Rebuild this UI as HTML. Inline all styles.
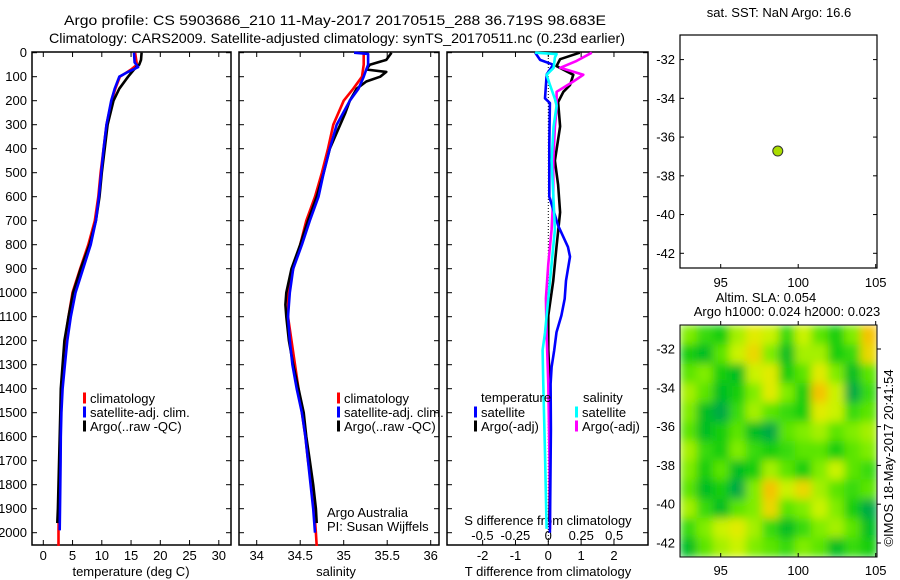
<!DOCTYPE html>
<html><head><meta charset="utf-8">
<style>
html,body{margin:0;padding:0;background:#fff;}
svg{display:block;font-family:"Liberation Sans",sans-serif;}
</style></head>
<body>
<svg id="fig" width="900" height="580" viewBox="0 0 900 580" xmlns="http://www.w3.org/2000/svg">
<defs>
<filter id="blur" x="0" y="0" width="100%" height="100%"><feGaussianBlur stdDeviation="4.5" edgeMode="duplicate"/></filter>
<clipPath id="mapclip"><rect x="680" y="325" width="197" height="232"/></clipPath>
</defs>
<text x="64" y="25" font-size="14" textLength="542" lengthAdjust="spacingAndGlyphs">Argo profile: CS 5903686_210 11-May-2017 20170515_288 36.719S 98.683E</text>
<text x="49" y="43" font-size="14" textLength="576" lengthAdjust="spacingAndGlyphs">Climatology: CARS2009. Satellite-adjusted climatology: synTS_20170511.nc (0.23d earlier)</text>
<g id="layer"></g>
</svg>
<script>
// ---- data ----
const depthTicks=[0,100,200,300,400,500,600,700,800,900,1000,1100,1200,1300,1400,1500,1600,1700,1800,1900,2000];
const tempTicks=[0,5,10,15,20,25,30];
const salTicks=[34,34.5,35,35.5,36];
const tdTicks=[-2,-1,0,1,2];
const sdTicks=[-0.5,-0.25,0,0.25,0.5];
const sdTickLabels=["-0.5","-0.25","0","0.25","0.5"];

const tClimDepth=[0,50,70,100,150,200,300,400,500,600,700,800,900,1000,1100,1200,1300,1400,1500,1600,1700,1800,1900,2000,2055];
const tClim=[15.7,16.0,15.0,13.1,12.3,11.7,10.8,10.3,9.8,9.4,8.8,7.7,6.3,5.0,4.3,3.7,3.4,3.1,3.0,2.9,2.85,2.75,2.65,2.6,2.6];
const tSatDepth=[0,40,60,80,100,150,200,300,400,500,600,700,800,900,1000,1100,1200,1300,1400,1500,1600,1700,1800,1900,1990];
const tSat=[15.5,15.6,16.2,14.5,13.0,12.2,11.6,10.8,10.3,9.9,9.5,9.0,8.1,6.8,5.5,4.7,4.1,3.7,3.3,3.1,3.0,2.95,2.9,2.85,2.8];
const tArgoDepth=[0,30,50,70,100,150,200,300,400,500,600,700,800,900,1000,1100,1200,1300,1400,1500,1600,1700,1800,1900,1960];
const tArgo=[16.8,16.7,16.4,15.5,14.5,13.0,12.0,11.0,10.5,10.0,9.6,9.0,7.9,6.4,5.1,4.3,3.6,3.3,3.0,2.9,2.8,2.7,2.6,2.5,2.4];

const sClimDepth=[0,50,100,150,200,250,300,400,500,600,700,800,900,1000,1100,1200,1300,1400,1500,1600,1700,1800,1900,2000,2055];
const sClim=[35.23,35.23,35.21,35.11,35.0,34.94,34.88,34.82,34.75,34.67,34.57,34.5,34.42,34.36,34.36,34.40,34.44,34.48,34.52,34.56,34.59,34.63,34.66,34.68,34.69];
const sSatDepth=[0,5,50,80,100,150,200,300,400,500,600,700,800,900,1000,1100,1200,1300,1400,1500,1600,1700,1800,1900,2000];
const sSat=[35.12,35.28,35.28,35.25,35.23,35.17,35.07,34.92,34.84,34.77,34.71,34.61,34.52,34.42,34.38,34.36,34.38,34.41,34.46,34.52,34.56,34.59,34.62,34.65,34.67];
const sArgoDepth=[0,30,50,70,80,100,120,150,200,250,300,400,500,600,700,800,900,1000,1050,1100,1200,1300,1400,1500,1600,1700,1800,1900,1960];
const sArgo=[35.55,35.49,35.30,35.26,35.49,35.42,35.26,35.15,35.07,35.02,34.96,34.84,34.77,34.69,34.59,34.50,34.40,34.34,34.33,34.34,34.37,34.42,34.48,34.54,34.57,34.61,34.65,34.68,34.69];

const dtSatDepth=[0,30,50,90,190,210,380,600,720,810,850,950,1025,1095,1165,1240,1310,1380,1570,2000];
const dtSat=[-0.4,-0.25,0.15,-0.05,-0.1,0.05,0.03,0.03,0.3,0.6,0.66,0.54,0.5,0.4,0.25,0.18,0.1,0.07,0.08,0.05];
const dtArgoDepth=[0,27,56,92,135,163,206,307,450,550,665,809,952,1095,1239,1382,1669,1955];
const dtArgo=[0.96,0.36,0.25,0.76,0.66,0.46,0.3,0.36,0.2,0.3,0.36,0.25,0.15,0.0,0.0,0.05,0.05,0.03];
const dsSatDepth=[0,6,20,63,92,135,192,221,307,450,594,737,880,1024,1167,1239,1382,1669,1984];
const dsSat=[-0.1,0.063,0.05,0.04,-0.013,0.013,0.05,0.063,0.04,0.025,0.038,0.05,0.025,0.0,-0.025,-0.043,-0.038,-0.025,-0.013];
const dsArgoDepth=[0,34,63,92,120,163,235,307,450,594,737,880,1024,1167,1382,1669,1984];
const dsArgo=[0.33,0.215,0.09,0.266,0.19,0.063,0.063,0.05,0.038,0.038,0.025,0.0,-0.018,-0.013,0.0,0.008,0.013];

const floatLon=[98.683];
const floatLat=[-36.719];
const lonTicks=[95,100,105];
const latTicks=[-32,-34,-36,-38,-40,-42];
const slaGrid=[
[0.6,0.4,0.3,0.7,0.9,0.8,0.4,0.8,0.5,0.3,0.6,1.1],
[0.3,0.2,0.5,0.8,1.0,0.6,0.2,0.7,0.7,0.3,0.4,1.0],
[0.5,0.6,0.3,0.2,0.8,0.9,0.3,0.5,0.9,0.6,0.2,0.5],
[0.7,0.5,0.2,0.3,0.6,0.9,0.6,0.3,1.1,0.8,0.1,0.4],
[0.6,0.2,0.1,0.4,0.7,0.5,0.4,0.3,0.9,0.8,0.4,0.5],
[0.5,0.2,0.3,0.5,0.2,0.1,0.5,0.6,0.7,0.5,0.6,0.7],
[0.7,0.4,0.3,0.6,0.4,0.3,0.4,0.5,0.5,0.3,0.5,0.6],
[0.6,0.3,0.5,0.2,0.3,0.7,0.5,0.3,0.6,0.8,0.5,0.4],
[0.5,0.2,0.3,0.1,0.6,1.1,0.8,1.0,0.7,0.5,0.4,0.5],
[0.7,0.4,0.2,0.5,0.6,1.0,0.5,0.6,0.8,0.6,0.3,0.1],
[0.4,0.6,0.8,0.9,0.7,0.4,0.2,0.4,0.6,0.7,0.5,0.2],
[0.2,0.5,0.7,0.8,0.6,0.5,0.4,0.6,0.5,0.2,0.4,0.3]];

// ---- scales ----
const NS="http://www.w3.org/2000/svg";
const L=document.getElementById('layer');
const yD=d=>52.7+d*0.24;
const xT=t=>43.3+t*5.85;
const xS=s=>256.7+(s-34)*87;
const xDT=v=>548.3+v*32.83;
const xDS=v=>548.3+v*131.7;
const xLon=l=>720.7+(l-95)*15.5;
const yLat1=a=>59.6+(-32-a)*19.37;
const yLat2=a=>349+(-32-a)*19.4;
const TOP=52,BOT=545;

function mk(tag,attrs,name,parent){const e=document.createElementNS(NS,tag);for(const k in attrs)e.setAttribute(k,attrs[k]);


(parent||L).appendChild(e);return e;}
function txt(x,y,s,name,opts){const e=mk('text',Object.assign({x:x,y:y,'font-size':13},opts||{}),name);e.textContent=s;return e;}

function frame(x0,x1,name,xticks,xf){
  mk('rect',{x:x0,y:TOP,width:x1-x0,height:BOT-TOP,fill:'none',stroke:'#000','stroke-width':1.5},name+'-frame');
  xticks.forEach(v=>{const x=xf(v);
    mk('line',{x1:x,x2:x,y1:BOT,y2:BOT-5,stroke:'#000'},name+'-xtick');
    mk('line',{x1:x,x2:x,y1:TOP,y2:TOP+5,stroke:'#000'},name+'-xtick-top');});
  depthTicks.forEach(d=>{const y=yD(d);
    mk('line',{x1:x0,x2:x0+5,y1:y,y2:y,stroke:'#000'},name+'-ytick');
    mk('line',{x1:x1,x2:x1-5,y1:y,y2:y,stroke:'#000'},name+'-ytick-right');});
}
function line(ds,vs,xf,col,name,w){
  const pts=ds.map((d,i)=>xf(vs[i]).toFixed(1)+','+yD(d).toFixed(1)).join(' ');
  mk('polyline',{points:pts,fill:'none',stroke:col,'stroke-width':w||2.6,'stroke-linejoin':'round'},name);
}
function legend(x,y,col,label,name){
  mk('rect',{x:x,y:y-6,width:3,height:11,fill:col},name+'-swatch');
  txt(x+7,y+4.5,label,name);
}

// Panel 1 temperature
frame(32,231,'temp-panel',tempTicks,xT);
depthTicks.forEach(d=>txt(27,yD(d)+4.5,String(d),'depth-tick-label',{'text-anchor':'end'}));
tempTicks.forEach(t=>txt(xT(t),560,String(t),'temp-tick-label',{'text-anchor':'middle'}));
txt(131,576,'temperature (deg C)','temp-axis-title',{'text-anchor':'middle'});
line(tClimDepth,tClim,xT,'#ff0000','temp-climatology-line');
line(tArgoDepth,tArgo,xT,'#000000','temp-argo-line');
line(tSatDepth,tSat,xT,'#0000ff','temp-satellite-line');
legend(83,398.5,'#ff0000','climatology','temp-legend-climatology');
legend(83,412.5,'#0000ff','satellite-adj. clim.','temp-legend-satellite');
legend(83,426.5,'#000000','Argo(..raw -QC)','temp-legend-argo');

// Panel 2 salinity
frame(239,439,'sal-panel',salTicks,xS);
salTicks.forEach(s=>txt(xS(s),560,String(s),'sal-tick-label',{'text-anchor':'middle'}));
txt(336,576,'salinity','sal-axis-title',{'text-anchor':'middle'});
line(sClimDepth,sClim,xS,'#ff0000','sal-climatology-line');
line(sArgoDepth,sArgo,xS,'#000000','sal-argo-line');
line(sSatDepth,sSat,xS,'#0000ff','sal-satellite-line');
legend(337,398.5,'#ff0000','climatology','sal-legend-climatology');
legend(337,412.5,'#0000ff','satellite-adj. clim.','sal-legend-satellite');
legend(337,426.5,'#000000','Argo(..raw -QC)','sal-legend-argo');
txt(327,517,'Argo Australia','credit-argo-australia');
txt(327,531,'PI: Susan Wijffels','credit-pi');

// Panel 3 differences
frame(447,648,'diff-panel',tdTicks,xDT);
mk('line',{x1:548.3,x2:548.3,y1:TOP,y2:BOT,stroke:'#000','stroke-dasharray':'1,2','stroke-width':1},'zero-reference-line');
tdTicks.forEach(v=>txt(xDT(v),560,String(v),'tdiff-tick-label',{'text-anchor':'middle'}));
txt(548,576,'T difference from climatology','tdiff-axis-title',{'text-anchor':'middle'});
sdTicks.forEach((v,i)=>txt(xDS(v),540,sdTickLabels[i],'sdiff-tick-label',{'text-anchor':'middle'}));
txt(548,525,'S difference from climatology','sdiff-axis-title',{'text-anchor':'middle'});
line(dtArgoDepth,dtArgo,xDT,'#000000','tdiff-argo-line');
line(dsArgoDepth,dsArgo,xDS,'#ff00ff','sdiff-argo-line');
line(dtSatDepth,dtSat,xDT,'#0000ff','tdiff-satellite-line');
line(dsSatDepth,dsSat,xDS,'#00ffff','sdiff-satellite-line');
txt(481,402,'temperature','diff-legend-temperature-header');
legend(474,412.5,'#0000ff','satellite','diff-legend-temp-satellite');
legend(474,426.5,'#000000','Argo(-adj)','diff-legend-temp-argo');
txt(583,402,'salinity','diff-legend-salinity-header');
legend(575,412.5,'#00ffff','satellite','diff-legend-sal-satellite');
legend(575,426.5,'#ff00ff','Argo(-adj)','diff-legend-sal-argo');

// Map 1 (SST)
txt(779,17,'sat. SST: NaN Argo: 16.6','sst-map-title',{'text-anchor':'middle'});
mk('rect',{x:680,y:35,width:197,height:233,fill:'none',stroke:'#000','stroke-width':1.2},'sst-map-frame');
lonTicks.forEach(l=>{const x=xLon(l);
  mk('line',{x1:x,x2:x,y1:268,y2:264,stroke:'#000'},'sst-map-lon-tick');
  txt(x,287,String(l),'sst-map-lon-label',{'text-anchor':'middle'});});
latTicks.forEach(a=>{const y=yLat1(a);
  mk('line',{x1:680,x2:684,y1:y,y2:y,stroke:'#000'},'sst-map-lat-tick');
  mk('line',{x1:877,x2:873,y1:y,y2:y,stroke:'#000'},'sst-map-lat-tick-right');
  txt(675,y+4.5,String(a),'sst-map-lat-label',{'text-anchor':'end'});});
floatLon.forEach((l,i)=>mk('circle',{cx:xLon(l),cy:yLat1(floatLat[i]),r:5,fill:'#aadd00',stroke:'#333','stroke-width':1},'float-location-marker'));

// Map 2 (SLA)
txt(766,302,'Altim. SLA: 0.054','sla-map-title',{'text-anchor':'middle'});
txt(787,316,'Argo h1000: 0.024 h2000: 0.023','sla-map-subtitle',{'text-anchor':'middle'});
function slaColor(v){
  const stops=[[0,[0,150,100]],[0.25,[0,200,20]],[0.55,[110,235,0]],[0.85,[220,245,0]],[1.1,[245,195,0]]];
  if(v<=0)return 'rgb(0,150,100)';
  for(let i=1;i<stops.length;i++){if(v<=stops[i][0]){const a=stops[i-1],b=stops[i],f=(v-a[0])/(b[0]-a[0]);
    return 'rgb('+a[1].map((c,j)=>Math.round(c+(b[1][j]-c)*f)).join(',')+')';}}
  return 'rgb(245,195,0)';
}
const hm=mk('g',{'clip-path':'url(#mapclip)'},'sla-heatmap');
const hmInner=mk('g',{filter:'url(#blur)'},'sla-heatmap-cells',hm);
const nR=slaGrid.length,nC=slaGrid[0].length,cw=197/nC,ch=232/nR;
slaGrid.forEach((row,r)=>row.forEach((v,c)=>{
  mk('rect',{x:(680+c*cw).toFixed(1),y:(325+r*ch).toFixed(1),width:(cw+0.6).toFixed(1),height:(ch+0.6).toFixed(1),fill:slaColor(v)},'sla-cell',hmInner);}));
mk('rect',{x:680,y:325,width:197,height:232,fill:'none',stroke:'#000','stroke-width':1},'sla-map-frame');
lonTicks.forEach(l=>{const x=xLon(l);
  mk('line',{x1:x,x2:x,y1:557,y2:553,stroke:'#000'},'sla-map-lon-tick');
  mk('line',{x1:x,x2:x,y1:325,y2:321,stroke:'#000'},'sla-map-lon-tick-top');
  txt(x,575,String(l),'sla-map-lon-label',{'text-anchor':'middle'});});
latTicks.forEach(a=>{const y=yLat2(a);
  mk('line',{x1:877,x2:881,y1:y,y2:y,stroke:'#000'},'sla-map-lat-tick');
  txt(675,y+4.5,String(a),'sla-map-lat-label',{'text-anchor':'end'});});
txt(0,0,'©IMOS 18-May-2017 20:41:54','imos-timestamp',{'text-anchor':'middle',transform:'translate(893,458) rotate(-90)'});
</script>
</body></html>
